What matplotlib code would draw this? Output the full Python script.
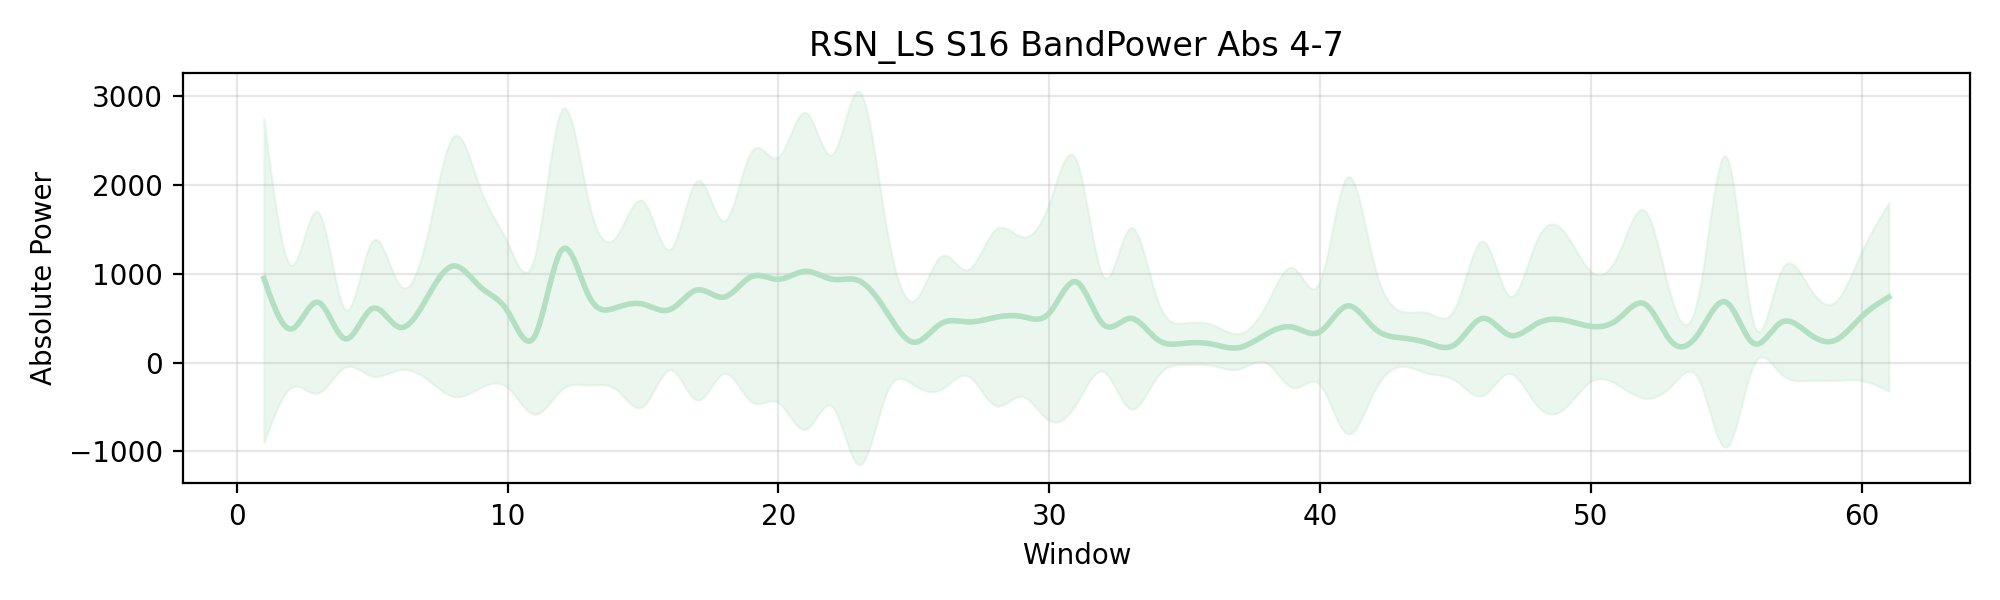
import numpy as np
import matplotlib
matplotlib.use("Agg")
import matplotlib.pyplot as plt

windows = np.arange(1, 62)
mean_power = [950, 380, 680, 270, 610, 400, 720, 1090, 850, 580, 300, 1270, 750, 620, 660,
              600, 820, 740, 970, 940, 1030, 940, 920, 570, 230, 440, 460, 510, 520, 560,
              910, 430, 500, 260, 220, 210, 170, 320, 400, 350, 640, 390, 280, 220, 210,
              500, 310, 440, 480, 410, 490, 660, 230, 340, 680, 220, 450, 340, 250, 520, 740]
upper = [2750, 1100, 1700, 600, 1370, 880, 1400, 2550, 1950, 1350, 1200, 2850, 1800, 1420, 1820,
         1280, 2050, 1600, 2380, 2320, 2820, 2350, 3050, 1500, 700, 1200, 1050, 1500, 1420, 1800,
         2280, 970, 1520, 700, 450, 430, 330, 650, 1070, 920, 2090, 1100, 580, 560, 630,
         1370, 750, 1380, 1480, 1030, 1220, 1710, 700, 800, 2320, 450, 1020, 880, 680, 1250, 1800]
lower = [-900, -280, -340, -50, -150, -80, -180, -380, -280, -280, -580, -300, -250, -300, -490,
         -80, -420, -120, -440, -450, -750, -500, -1150, -330, -250, -300, -150, -480, -380, -650,
         -460, -100, -520, -150, -20, -30, -70, 0, -280, -250, -800, -320, -40, -120, -200,
         -370, -120, -480, -520, -210, -250, -400, -250, -200, -950, -30, -120, -200, -200, -200, -320]


def smooth(x, y, n=1500):
    """Natural cubic spline through the points, for drawing only."""
    x = np.asarray(x, float)
    y = np.asarray(y, float)
    h = np.diff(x)
    m = len(x)
    A = np.zeros((m, m))
    b = np.zeros(m)
    A[0, 0] = A[-1, -1] = 1
    for i in range(1, m - 1):
        A[i, i - 1] = h[i - 1]
        A[i, i] = 2 * (h[i - 1] + h[i])
        A[i, i + 1] = h[i]
        b[i] = 6 * ((y[i + 1] - y[i]) / h[i] - (y[i] - y[i - 1]) / h[i - 1])
    M = np.linalg.solve(A, b)
    xs = np.linspace(x[0], x[-1], n)
    idx = np.clip(np.searchsorted(x, xs) - 1, 0, m - 2)
    x0, x1 = x[idx], x[idx + 1]
    hh = x1 - x0
    t0, t1 = x1 - xs, xs - x0
    ys = (M[idx] * t0 ** 3 + M[idx + 1] * t1 ** 3) / (6 * hh) \
        + (y[idx] / hh - M[idx] * hh / 6) * t0 + (y[idx + 1] / hh - M[idx + 1] * hh / 6) * t1
    return xs, ys


fig, ax = plt.subplots(figsize=(10, 3), dpi=200)
xs, ms = smooth(windows, mean_power)
_, us = smooth(windows, upper)
_, ls = smooth(windows, lower)

ax.fill_between(xs, ls, us, color="#c7e9d0", alpha=0.35, linewidth=0.8, edgecolor="#c7e9d0")
ax.plot(xs, ms, color="#b3dfc3", linewidth=2)

ax.set_title("RSN_LS S16 BandPower Abs 4-7")
ax.set_xlabel("Window")
ax.set_ylabel("Absolute Power")
ax.set_xlim(-2, 64)
ax.grid(True, alpha=0.3)
plt.tight_layout()
plt.savefig("out.png", dpi=200)
